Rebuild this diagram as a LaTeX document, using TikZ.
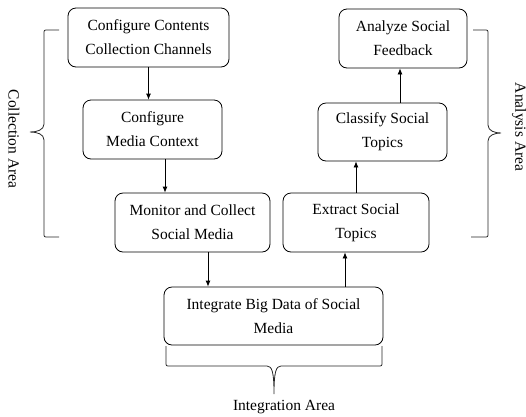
\documentclass[tikz,border=0pt]{standalone}
\usepackage{fontspec}
\setmainfont{Liberation Serif}
\usepackage{tikz}
\usetikzlibrary{calc}
\usetikzlibrary{arrows.meta, positioning, shapes}
\tikzset {
  model/.style = {draw, line width=0.8pt, fill=white, align=center, inner sep=0pt, minimum height=59pt, rounded corners=8pt, font=\fontsize{15.5}{24}\selectfont},
  line/.style = {-{Latex[length=6pt, width=5pt]}, line width=0.8pt, color=black},
  area/.style = {line width=0.8pt, color=black!85},
  arealabel/.style = {font=\fontsize{15.5}{18}\selectfont}
}

\begin{document}
\begin{tikzpicture}[x=1pt, y=-1pt]
    \useasboundingbox (0,0) rectangle (526,416);

    \node[model, name=channels, minimum width=161pt] (channels) at (148.5,37.5) {Configure Contents\\Collection Channels};
    \node[model, name=context, minimum width=139pt] (context) at (152.5,129.5) {Configure\\Media Context};
    \node[model, name=monitor, minimum width=155pt] (monitor) at (192.5,222.5) {Monitor and Collect\\Social Media};
    \node[model, name=integrate, minimum width=219pt, minimum height=58pt] (integrate) at (273.5,316) {Integrate Big Data of Social\\Media};
    \node[model, name=extract, minimum width=146pt] (extract) at (356,222.5) {Extract Social\\Topics};
    \node[model, name=classify, minimum width=129pt, minimum height=58pt] (classify) at (382.5,132) {Classify Social\\Topics};
    \node[model, name=feedback, minimum width=128pt] (feedback) at (403,38.5) {Analyze Social\\Feedback};

    \draw[line] (channels.south) -- (channels.south |- context.north);
    \draw[line] ([xshift=12.5pt]context.south) -- ([xshift=12.5pt]context.south |- monitor.north);
    \draw[line] ([xshift=15.5pt]monitor.south) -- ([xshift=15.5pt]monitor.south |- integrate.north);
    \draw[line] ([xshift=-11pt]extract.south |- integrate.north) -- ([xshift=-11pt]extract.south);
    \draw[line] (extract.north) -- (extract.north |- classify.south);
    \draw[line] ([xshift=17.5pt]classify.north) -- ([xshift=17.5pt]classify.north |- feedback.south);

    % area braces
    \draw[area] (59,30) -- (48,30) .. controls (44,30) .. (44,34) -- (44,124)
        .. controls (44,130) and (37,132) .. (30,132) .. controls (37,132) and (44,134) .. (44,140)
        -- (44,233) .. controls (44,237) .. (48,237) -- (59,237);
    \draw[area] (473,30) -- (484,30) .. controls (488,30) .. (488,34) -- (488,125)
        .. controls (488,131) and (495,133) .. (501,133) .. controls (495,133) and (488,135) .. (488,141)
        -- (488,233) .. controls (488,237) .. (484,237) -- (471,237);
    \draw[area] (166,346) -- (166,362) .. controls (166,366) .. (170,366) -- (267,366)
        .. controls (272,366) and (274,372) .. (274,394) .. controls (274,372) and (276,366) .. (281,366)
        -- (378,366) .. controls (382,366) .. (382,362) -- (382,346);

    \node[arealabel, rotate=-90] (colllabel) at (14,139) {Collection Area};
    \node[arealabel, rotate=-90] (anlabel) at (519,127) {Analysis Area};
    \node[arealabel] (intlabel) at (284,407) {Integration Area};

  \end{tikzpicture}
\end{document}
